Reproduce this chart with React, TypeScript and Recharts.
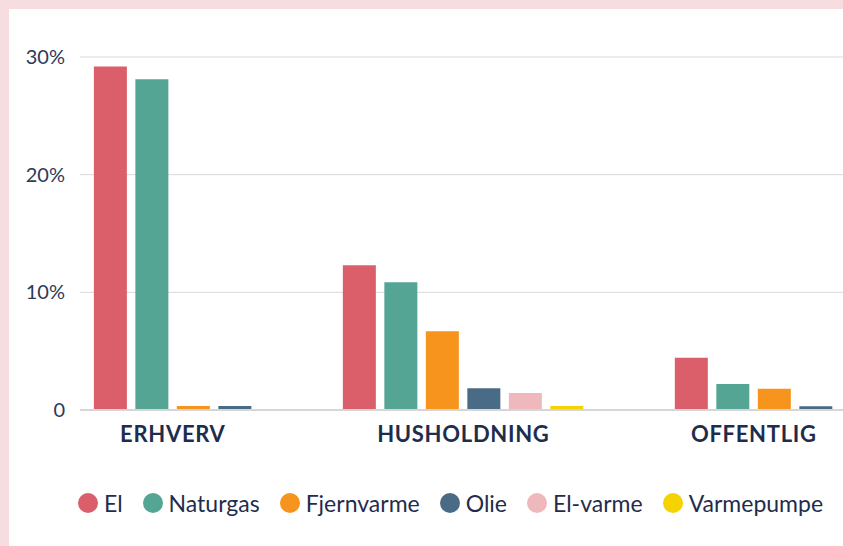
import React from 'react';
import {
  BarChart,
  Bar,
  XAxis,
  YAxis,
  CartesianGrid,
  Legend,
  ReferenceLine
} from 'recharts';

const groups = ['ERHVERV', 'HUSHOLDNING', 'OFFENTLIG'];
const seriesNames = ['El', 'Naturgas', 'Fjernvarme', 'Olie', 'El-varme', 'Varmepumpe'];
const seriesColors = ['#db5f6a', '#55a594', '#f7941d', '#4a6b85', '#efb8bd', '#f5d300'];

// percent per group (ERHVERV, HUSHOLDNING, OFFENTLIG), null = not shown
const el = [29.2, 12.3, 4.45];
const naturgas = [28.1, 10.85, 2.2];
const fjernvarme = [0.35, 6.7, 1.8];
const olie = [0.35, 1.85, 0.32];
const elVarme = [null, 1.45, null];
const varmepumpe = [null, 0.35, null];

const yTicks = [0, 10, 20, 30];

const seriesValues = [el, naturgas, fjernvarme, olie, elVarme, varmepumpe];

// one row per bar; bars of a group sit next to each other around the group index
const slot = 1 / 7;
const rows: Record<string, number>[] = [];
groups.forEach((_, g) => {
  const present = seriesNames
    .map((name, i) => ({ name, v: seriesValues[i][g] }))
    .filter((s) => s.v !== null);
  present.forEach((s, i) => {
    rows.push({ pos: g + (i - (present.length - 1) / 2) * slot, [s.name]: s.v as number });
  });
});

const navy = '#1f2d4d';
const font = 'Lato, sans-serif';

function LegendContent() {
  return (
    <div style={{ display: 'flex', alignItems: 'center', height: 40, paddingLeft: 78, fontFamily: font, whiteSpace: 'nowrap' }}>
      {seriesNames.map((name, i) => (
        <div key={name} style={{ display: 'flex', alignItems: 'center', marginRight: 20, flexShrink: 0 }}>
          <span
            style={{
              width: 20,
              height: 20,
              borderRadius: 10,
              background: seriesColors[i],
              display: 'inline-block',
              marginRight: 6
            }}
          />
          <span style={{ fontSize: 23, color: navy }}>{name}</span>
        </div>
      ))}
    </div>
  );
}

export default function App() {
  return (
    <div style={{ position: 'absolute', left: 0, top: 0, width: 843, height: 546, background: '#f7dde0', overflow: 'hidden' }}>
      <div style={{ position: 'absolute', left: 9, top: 9, width: 834, height: 537, background: '#ffffff' }} />
      <div style={{ position: 'absolute', left: 0, top: 0 }}>
        <BarChart width={843} height={546} data={rows} margin={{ top: 57, right: 0, left: 0, bottom: 66 }}>
          <CartesianGrid vertical={false} stroke="#d9d9d9" />
          <XAxis
            type="number"
            dataKey="pos"
            domain={[-0.3197, 2.307]}
            allowDataOverflow
            ticks={[0, 1, 2]}
            tickFormatter={(v) => groups[v]}
            axisLine={false}
            tickLine={false}
            height={30}
            tick={{ fill: navy, fontSize: 22, fontWeight: 700, fontFamily: font, letterSpacing: 0.7 }}
            tickMargin={10}
          />
          <YAxis
            width={80}
            domain={[0, 30]}
            ticks={yTicks}
            tickFormatter={(v) => (v === 0 ? '0' : `${v}%`)}
            axisLine={false}
            tickLine={false}
            tickMargin={9}
            tick={{ fill: '#2d3a58', fontSize: 20, fontFamily: font }}
          />
          <ReferenceLine y={0} stroke="#d6d6d6" strokeWidth={2} />
          {seriesNames.map((name, i) => (
            <Bar
              key={name}
              dataKey={name}
              name={name}
              stackId="a"
              fill={seriesColors[i]}
              barSize={33}
              isAnimationActive={false}
            />
          ))}
          <Legend content={<LegendContent />} wrapperStyle={{ top: 483, left: 0, width: 843 }} />
        </BarChart>
      </div>
    </div>
  );
}
